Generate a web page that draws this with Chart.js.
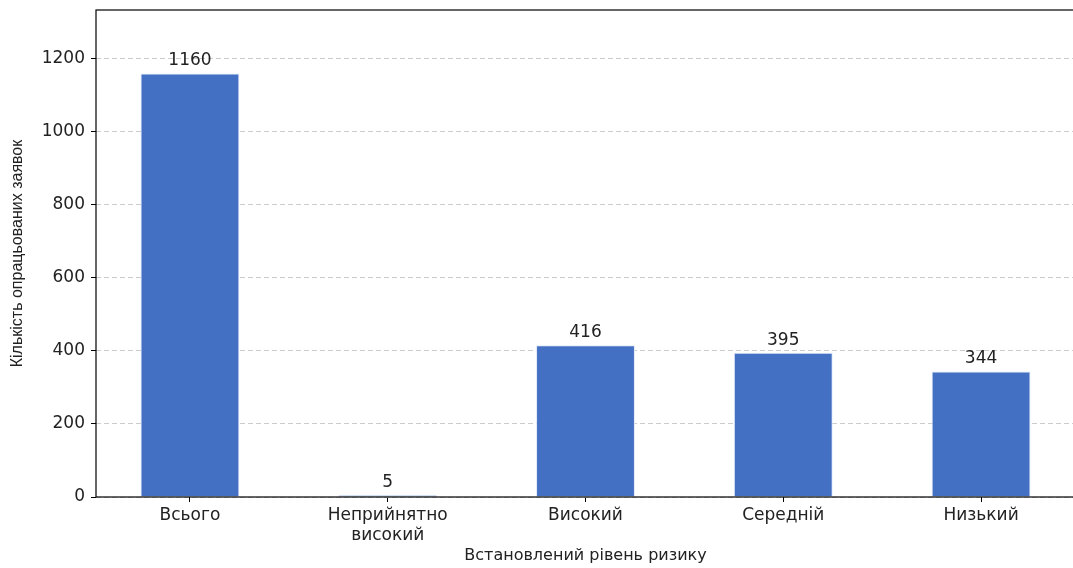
<!DOCTYPE html>
<html>
<head>
<meta charset="utf-8">
<script src="https://cdn.jsdelivr.net/npm/chart.js@4/dist/chart.umd.min.js"></script>
<style>
  html, body { margin: 0; padding: 0; background: #fff; overflow: hidden; }
  #wrap { width: 1090px; height: 568px; }
</style>
</head>
<body>
<div id="wrap"><canvas id="risk-chart"></canvas></div>
<script>
const categories = [['Всього'], ['Неприйнятно', 'високий'], ['Високий'], ['Середній'], ['Низький']];
const counts = [1160, 5, 416, 395, 344];
const yTicks = [0, 200, 400, 600, 800, 1000, 1200];

const FONT = '"DejaVu Sans", sans-serif';

// frame round the plot area (matplotlib spines)
const framePlugin = {
    id: 'frame',
    afterDatasetsDraw(chart) {
        const {ctx, chartArea: a} = chart;
        ctx.save();
        ctx.strokeStyle = '#000';
        ctx.lineWidth = 1.2;
        ctx.strokeRect(a.left, a.top, a.right - a.left, a.bottom - a.top);
        ctx.restore();
    }
};

// value above each bar
const valueLabels = {
    id: 'valueLabels',
    afterDatasetsDraw(chart) {
        const {ctx} = chart;
        const meta = chart.getDatasetMeta(0);
        ctx.save();
        ctx.font = '17px ' + FONT;
        ctx.fillStyle = '#222';
        ctx.textAlign = 'center';
        ctx.textBaseline = 'bottom';
        meta.data.forEach((bar, i) => {
            ctx.fillText(String(counts[i]), bar.x, bar.y - 4);
        });
        ctx.restore();
    }
};

new Chart(document.getElementById('risk-chart'), {
    type: 'bar',
    data: {
        datasets: [{
            label: 'Кількість',
            data: counts.map((v, i) => ({x: i, y: v})),
            backgroundColor: '#4370c2',
            borderColor: 'rgba(220,230,250,0.9)',
            borderWidth: 1,
            categoryPercentage: 1,
            barPercentage: 0.5
        }]
    },
    options: {
        responsive: true,
        maintainAspectRatio: false,
        animation: false,
        layout: { padding: {left: 0, top: 10, right: 15, bottom: 0} },
        plugins: {
            legend: { display: false },
            tooltip: { enabled: false }
        },
        scales: {
            x: {
                type: 'linear',
                offset: false,
                min: -0.475,
                max: 4.475,
                afterBuildTicks: (scale) => {
                    scale.ticks = categories.map((c, i) => ({value: i}));
                },
                afterFit: (scale) => {
                    scale.height = 71;
                    scale.paddingLeft = 0;
                    scale.paddingRight = 0;
                },
                ticks: {
                    callback: (v) => categories[v],
                    color: '#222',
                    font: { size: 17, family: FONT },
                    padding: 3,
                    maxRotation: 0,
                    autoSkip: false
                },
                grid: {
                    offset: false,
                    drawOnChartArea: false,
                    drawTicks: true,
                    tickLength: 5,
                    tickColor: '#000'
                },
                border: { display: false },
                title: {
                    display: true,
                    text: 'Встановлений рівень ризику',
                    color: '#222',
                    font: { size: 16, family: FONT },
                    padding: {top: 0, bottom: 3}
                }
            },
            y: {
                min: 0,
                max: 1334,
                afterBuildTicks: (scale) => {
                    scale.ticks = yTicks.map(v => ({value: v}));
                },
                afterFit: (scale) => {
                    scale.width = 96;
                    scale.paddingTop = 0;
                    scale.paddingBottom = 0;
                },
                ticks: {
                    callback: (v) => String(v),
                    color: '#222',
                    font: { size: 17, family: FONT },
                    padding: 6
                },
                grid: {
                    color: '#cccccc',
                    lineWidth: 1,
                    tickLength: 5,
                    tickColor: '#000',
                    tickBorderDash: []
                },
                border: { display: false, dash: [5, 3] },
                title: {
                    display: true,
                    text: 'Кількість опрацьованих заявок',
                    color: '#222',
                    font: { size: 16, family: '"Liberation Sans", Arial, sans-serif' },
                    padding: {top: 8, bottom: 0}
                }
            }
        }
    },
    plugins: [framePlugin, valueLabels]
});
</script>
</body>
</html>
